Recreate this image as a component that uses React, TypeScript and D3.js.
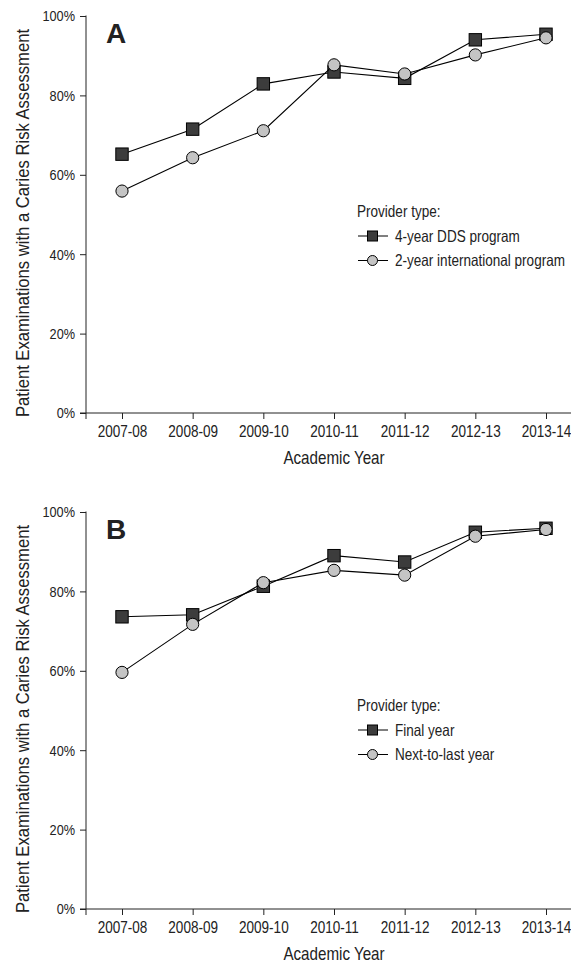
import React, { useEffect, useRef } from 'react'
import * as d3 from 'd3'

const years = ['2007-08', '2008-09', '2009-10', '2010-11', '2011-12', '2012-13', '2013-14']
const yTicks = [0, 20, 40, 60, 80, 100]

// panel A
const dds4Year = [65.2, 71.5, 82.9, 85.9, 84.3, 94.0, 95.4]
const intl2Year = [55.9, 64.3, 71.1, 87.7, 85.4, 90.2, 94.5]
const legendA = ['4-year DDS program', '2-year international program']

// panel B
const finalYear = [73.6, 74.1, 81.3, 89.0, 87.4, 94.9, 95.9]
const nextToLast = [59.6, 71.7, 82.2, 85.3, 84.1, 93.9, 95.6]
const legendB = ['Final year', 'Next-to-last year']

const FONT = "'Liberation Sans', Arial, sans-serif"
const INK = '#222'

const panels = [
  { letter: 'A', top: 16, squares: dds4Year, circles: intl2Year, legend: legendA, legendTop: 201 },
  { letter: 'B', top: 512, squares: finalYear, circles: nextToLast, legend: legendB, legendTop: 199 },
]

// no narrow face installed, so squeeze the regular one
const narrow = (sel: any, k = 0.82) =>
  sel.each(function (this: SVGTextElement) {
    const w = this.getComputedTextLength()
    d3.select(this).attr('textLength', w * k).attr('lengthAdjust', 'spacingAndGlyphs')
  })

export default function App() {
  const ref = useRef<SVGSVGElement>(null)

  useEffect(() => {
    const svg = d3.select(ref.current)
    svg.selectAll('*').remove()

    const axisX = 86
    const plotH = 397
    const x = d3.scalePoint<string>().domain(years).range([122, 546])

    panels.forEach((p) => {
      const g = svg.append('g').attr('transform', `translate(0,${p.top})`)
      const y = d3.scaleLinear().domain([0, 100]).range([plotH, 0])

      // y axis
      const yAxis = g
        .append('g')
        .attr('transform', `translate(${axisX},0)`)
        .call(
          d3.axisLeft(y).tickValues(yTicks).tickSize(6).tickPadding(5).tickFormat((d) => `${d}%`)
        )
      yAxis.select('.domain').remove()
      yAxis
        .append('line')
        .attr('y1', -0.5)
        .attr('y2', plotH + 6)
        .attr('stroke', INK)
      yAxis.selectAll('.tick line').attr('stroke', INK)
      yAxis
        .selectAll('.tick text')
        .attr('fill', INK)
        .style('font-family', FONT)
        .style('font-size', '15.5px')
        .call(narrow)

      // x axis
      const xAxis = g
        .append('g')
        .attr('transform', `translate(0,${plotH})`)
        .call(d3.axisBottom(x).tickSize(6).tickPadding(6))
      xAxis.select('.domain').remove()
      xAxis
        .append('line')
        .attr('x1', axisX - 6)
        .attr('x2', 580)
        .attr('stroke', INK)
      xAxis.selectAll('.tick line').attr('stroke', INK)
      xAxis
        .selectAll('.tick text')
        .attr('fill', INK)
        .style('font-family', FONT)
        .style('font-size', '16.5px')
        .call(narrow)

      g.append('text')
        .attr('x', 334)
        .attr('y', plotH + 51)
        .attr('text-anchor', 'middle')
        .attr('fill', INK)
        .style('font-family', FONT)
        .style('font-size', '18.5px')
        .text('Academic Year')
        .call(narrow)

      g.append('text')
        .attr('transform', `translate(29,${207}) rotate(-90)`)
        .attr('text-anchor', 'middle')
        .attr('fill', INK)
        .style('font-family', FONT)
        .style('font-size', '19px')
        .attr('textLength', 388)
        .attr('lengthAdjust', 'spacingAndGlyphs')
        .text('Patient Examinations with a Caries Risk Assessment')

      g.append('text')
        .attr('x', 106)
        .attr('y', 27)
        .attr('fill', INK)
        .style('font-family', FONT)
        .style('font-weight', 'bold')
        .style('font-size', '28px')
        .text(p.letter)

      const line = d3
        .line<number>()
        .x((_, i) => x(years[i]) as number)
        .y((d) => y(d))

      // squares series
      g.append('path').attr('d', line(p.squares)).attr('fill', 'none').attr('stroke', '#000').attr('stroke-width', 1.1)
      g.selectAll('.sq')
        .data(p.squares)
        .enter()
        .append('rect')
        .attr('x', (_, i) => (x(years[i]) as number) - 6.2)
        .attr('y', (d) => y(d) - 6.2)
        .attr('width', 12.4)
        .attr('height', 12.4)
        .attr('fill', '#3c3c3c')
        .attr('stroke', '#000')

      // circles series
      g.append('path').attr('d', line(p.circles)).attr('fill', 'none').attr('stroke', '#000').attr('stroke-width', 1.1)
      g.selectAll('.ci')
        .data(p.circles)
        .enter()
        .append('circle')
        .attr('cx', (_, i) => x(years[i]) as number)
        .attr('cy', (d) => y(d))
        .attr('r', 6.1)
        .attr('fill', '#c4c4c4')
        .attr('stroke', '#000')

      // legend
      const lg = g.append('g').attr('transform', `translate(357,${p.legendTop})`)
      lg.append('text')
        .attr('x', 0)
        .attr('y', 0)
        .attr('fill', INK)
        .style('font-family', FONT)
        .style('font-size', '16.5px')
        .text('Provider type:')
        .call(narrow)
      p.legend.forEach((label, i) => {
        const cy = 19 + i * 24.5
        lg.append('line').attr('x1', 1).attr('x2', 31).attr('y1', cy).attr('y2', cy).attr('stroke', '#000')
        if (i === 0) {
          lg.append('rect')
            .attr('x', 10.5)
            .attr('y', cy - 5)
            .attr('width', 10)
            .attr('height', 10)
            .attr('fill', '#3c3c3c')
            .attr('stroke', '#000')
        } else {
          lg.append('circle').attr('cx', 15.5).attr('cy', cy).attr('r', 5).attr('fill', '#c4c4c4').attr('stroke', '#000')
        }
        lg.append('text')
          .attr('x', 38)
          .attr('y', cy + 5.5)
          .attr('fill', INK)
          .style('font-family', FONT)
          .style('font-size', '16.5px')
          .text(label)
          .call(narrow)
      })
    })
  }, [])

  return (
    <svg
      ref={ref}
      width={571}
      height={963}
      style={{ position: 'absolute', left: 0, top: 0, background: '#fff' }}
    />
  )
}
